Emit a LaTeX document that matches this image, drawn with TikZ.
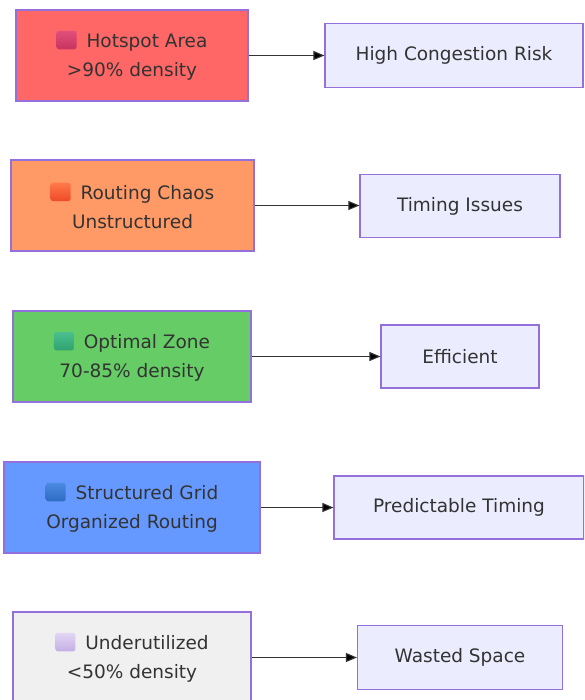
\documentclass[tikz,border=0pt]{standalone}
\usepackage{fontspec}
\setmainfont{DejaVu Sans}
\usetikzlibrary{arrows.meta}
\definecolor{txt}{HTML}{333333}
\definecolor{edge}{HTML}{9370DB}
\definecolor{tgt}{HTML}{ECECFF}
\definecolor{cred}{HTML}{FF6666}
\definecolor{corange}{HTML}{FF9966}
\definecolor{cgreen}{HTML}{66CC66}
\definecolor{cblue}{HTML}{6699FF}
\definecolor{cgray}{HTML}{F0F0F0}
\definecolor{ered1}{HTML}{E0507A}
\definecolor{ered2}{HTML}{C83360}
\definecolor{eor1}{HTML}{FF7A4A}
\definecolor{eor2}{HTML}{EE4A28}
\definecolor{egr1}{HTML}{4CC08E}
\definecolor{egr2}{HTML}{2FA270}
\definecolor{ebl1}{HTML}{4A8AE0}
\definecolor{ebl2}{HTML}{2F6CC4}
\definecolor{epu1}{HTML}{E2D6F4}
\definecolor{epu2}{HTML}{C4AEE4}
\newcommand{\emosq}[2]{\tikz[baseline=1.5pt]\shade[top color=#1,bottom color=#2,rounded corners=2.5pt] (0pt,0pt) rectangle (20pt,18.5pt);\hspace{10pt}}
\begin{document}
\begin{tikzpicture}[x=1pt,y=-1pt,
  box/.style={draw=edge,line width=1.2pt,text=txt,align=center,inner sep=0pt,
    font=\fontsize{18.5}{28.5}\selectfont},
  srcbox/.style={box,minimum height=91pt},
  tgtbox/.style={box,fill=tgt,minimum height=63pt},
  arr/.style={draw=txt,line width=1.1pt,-{Triangle[length=11pt,width=9pt]}}]
\useasboundingbox (0,0) rectangle (584,700);
\begin{scope}
\clip (0,0) rectangle (584,700);
\node[srcbox,fill=cred,minimum width=232pt] (a1) at (132,55.5) {\emosq{ered1}{ered2}Hotspot Area\\>90\% density};
\node[tgtbox,minimum width=258pt,minimum height=64pt] (t1) at (454,55.5) {High Congestion Risk};
\node[srcbox,fill=corange,minimum width=243pt] (a2) at (132.5,205.5) {\emosq{eor1}{eor2}Routing Chaos\\Unstructured};
\node[tgtbox,minimum width=200pt] (t2) at (460,206) {Timing Issues};
\node[srcbox,fill=cgreen,minimum width=238pt] (a3) at (132,356.5) {\emosq{egr1}{egr2}Optimal Zone\\70-85\% density};
\node[tgtbox,minimum width=158pt] (t3) at (460,356.5) {Efficient};
\node[srcbox,fill=cblue,minimum width=256pt] (a4) at (132,507.5) {\emosq{ebl1}{ebl2}Structured Grid\\Organized Routing};
\node[tgtbox,minimum width=250pt] (t4) at (459,507.5) {Predictable Timing};
\node[srcbox,fill=cgray,minimum width=238pt] (a5) at (132,657.5) {\emosq{epu1}{epu2}Underutilized\\<50\% density};
\node[tgtbox,minimum width=205pt,minimum height=64pt] (t5) at (460,657.5) {Wasted Space};
\draw[arr] (a1.east) -- (a1.east -| t1.west);
\draw[arr] (a2.east) -- (a2.east -| t2.west);
\draw[arr] (a3.east) -- (a3.east -| t3.west);
\draw[arr] (a4.east) -- (a4.east -| t4.west);
\draw[arr] (a5.east) -- (a5.east -| t5.west);
\end{scope}
\end{tikzpicture}
\end{document}
